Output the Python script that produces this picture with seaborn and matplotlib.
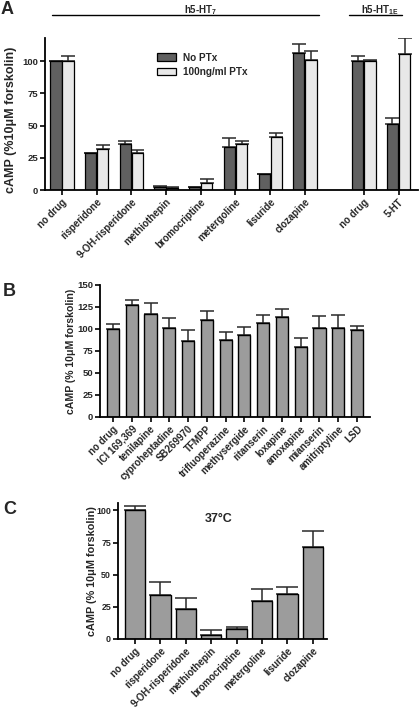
import numpy as np
import pandas as pd
import matplotlib
matplotlib.use("Agg")
import matplotlib.pyplot as plt
from matplotlib.lines import Line2D
from matplotlib.container import BarContainer
import seaborn as sns

# ---------------- data ----------------
a_drugs = ["no drug", "risperidone", "9-OH-risperidone", "methiothepin",
           "bromocriptine", "metergoline", "lisuride", "clozapine",
           "no drug", "5-HT"]
a_noptx = [100, 28.5, 35.8, 2.4, 2.0, 33.3, 12.1, 106, 100, 51]
a_noptx_err = [0, 0.6, 2.2, 1.0, 0.6, 7.3, 0.6, 7, 3.8, 5.2]
a_ptx = [100, 31.5, 28.4, 1.4, 5.4, 35.7, 41.3, 101, 100, 105.5]
a_ptx_err = [4, 3.5, 2.3, 1.2, 3.1, 2.0, 3.1, 7, 1.3, 12.3]
a_conditions = ["No PTx", "100ng/ml PTx"]

b_drugs = ["no drug", "ICI 169,369", "tenilapine", "cyproheptadine",
           "SB269970", "TFMPP", "trifluoperazine", "methysergide",
           "ritanserin", "loxapine", "amoxapine", "mianserin",
           "amitriptyline", "LSD"]
b_vals = [100, 127.4, 117.4, 100.8, 85.9, 110.6, 87.8, 93.5, 106.9,
          113.7, 79, 101.5, 101.1, 99.2]
b_err = [6, 5.8, 11.6, 11.2, 12.6, 9.9, 8.8, 8.8, 8.7, 8.8, 10.7,
         13.4, 14.5, 3.8]

c_drugs = ["no drug", "risperidone", "9-OH-risperidone", "methiothepin",
           "bromocriptine", "metergoline", "lisuride", "clozapine"]
c_vals = [100, 33.9, 23.6, 3.4, 8.0, 29.5, 35.0, 71.5]
c_err = [3, 10.7, 8.5, 3.6, 1.0, 9.4, 5.7, 12.5]

# layout: slot positions of panel A groups (gap between receptor blocks)
a_slots = [0, 1, 2, 3, 4, 5, 6, 7, 8.7, 9.7]

# ---------------- style ----------------
sns.set_theme(style="ticks")
plt.rcParams["font.family"] = ["Liberation Sans", "DejaVu Sans"]
plt.rcParams["font.weight"] = "bold"
plt.rcParams["axes.labelweight"] = "bold"
plt.rcParams["mathtext.fontset"] = "custom"
plt.rcParams["mathtext.rm"] = "Liberation Sans:bold"
plt.rcParams["mathtext.bf"] = "Liberation Sans:bold"
plt.rcParams["mathtext.it"] = "Liberation Sans:bold"

fig = plt.figure(figsize=(4.2, 7.12), dpi=100)
W, H = 420.0, 712.0


def add_ax(x0, x1, ytop, ybot):
    return fig.add_axes([x0 / W, 1 - ybot / H, (x1 - x0) / W, (ybot - ytop) / H])


def style_ax(ax, yticks, ysize=6.8):
    sns.despine(ax=ax)
    for s in ("left", "bottom"):
        ax.spines[s].set_linewidth(1.3)
        ax.spines[s].set_color("black")
    ax.tick_params(axis="both", length=3.5, width=1.2, color="black",
                   labelsize=6.8, pad=1.5)
    ax.set_yticks(yticks)
    ax.set_yticklabels([str(t) for t in yticks], fontweight="bold",
                       fontsize=ysize)
    ax.set_xlabel("")
    ax.set_facecolor("none")


def add_errs(ax, centers_ref, errs_by_hue, capsize):
    conts = [c for c in list(ax.containers)
             if isinstance(c, BarContainer) and len(c) > 0]
    for ci, cont in enumerate(conts):
        errs = errs_by_hue[ci]
        for bar in cont:
            xc = bar.get_x() + bar.get_width() / 2
            idx = int(np.argmin(np.abs(np.asarray(centers_ref) - xc)))
            h = bar.get_height()
            ax.errorbar([xc], [h], yerr=[[0], [errs[idx]]], fmt="none",
                        ecolor="#2a2a2a", elinewidth=1.1, capsize=capsize,
                        capthick=1.1, zorder=1)


def rot_labels(ax, labels, fs=7):
    ax.set_xticklabels(labels, rotation=45, ha="right", va="top",
                       rotation_mode="anchor", fontsize=fs, fontweight="bold")


# ---------------- Panel A ----------------
dfA = pd.DataFrame({
    "slot": a_slots * 2,
    "value": a_noptx + a_ptx,
    "cond": [a_conditions[0]] * len(a_slots) + [a_conditions[1]] * len(a_slots),
})
axA = add_ax(45, 418, 38, 190)
sns.barplot(data=dfA, x="slot", y="value", hue="cond", hue_order=a_conditions,
            native_scale=True, palette={a_conditions[0]: "#606060",
                                        a_conditions[1]: "#e8e8e8"},
            edgecolor="black", linewidth=0.9, width=0.7, gap=0.08,
            errorbar=None, ax=axA, zorder=2)
add_errs(axA, a_slots, [a_noptx_err, a_ptx_err], capsize=5)
axA.set_xlim(-0.49, 10.26)
axA.set_ylim(0, 118)
style_ax(axA, [0, 25, 50, 75, 100])
axA.set_xticks(a_slots)
rot_labels(axA, a_drugs)
axA.set_ylabel("cAMP (%10\u03bcM forskolin)", fontsize=9, fontweight="bold")
axA.yaxis.set_label_coords(-0.075, 0.465)
leg = axA.legend(loc="upper left", bbox_to_anchor=(0.29, 0.93), frameon=False,
                 fontsize=7.2, handlelength=1.9, handleheight=0.75,
                 handletextpad=0.7, labelspacing=0.45, borderaxespad=0)
for t in leg.get_texts():
    t.set_fontweight("bold")
for p in leg.get_patches():
    p.set_linewidth(0.9)

# group headers
fig.text(201 / W, 1 - 10 / H, r"h5-HT$_{7}$", ha="center", va="center",
         fontsize=7, fontweight="bold")
fig.text(380 / W, 1 - 10 / H, r"h5-HT$_{1E}$", ha="center", va="center",
         fontsize=7, fontweight="bold")
fig.add_artist(Line2D([52 / W, 319 / W], [1 - 15 / H] * 2, color="black", lw=1.0))
fig.add_artist(Line2D([349 / W, 402 / W], [1 - 15 / H] * 2, color="black", lw=1.0))
fig.text(1 / W, 1 - 1 / H, "A", ha="left", va="top", fontsize=13,
         fontweight="bold")

# ---------------- Panel B ----------------
dfB = pd.DataFrame({"drug": b_drugs, "value": b_vals})
axB = add_ax(100, 370, 285, 417)
sns.barplot(data=dfB, x="drug", y="value", order=b_drugs, color="#9c9c9c",
            saturation=1, edgecolor="black", linewidth=1.0, width=0.64,
            errorbar=None, ax=axB, zorder=2)
add_errs(axB, list(range(len(b_drugs))), [b_err], capsize=5)
axB.set_xlim(-0.69, len(b_drugs) - 1 + 0.69)
axB.set_ylim(0, 150)
style_ax(axB, [0, 25, 50, 75, 100, 125, 150])
rot_labels(axB, b_drugs)
axB.set_ylabel("cAMP (% 10\u03bcM forskolin)", fontsize=7.6, fontweight="bold")
axB.yaxis.set_label_coords(-0.089, 0.5)
fig.text(3 / W, 1 - 291 / H, "B", ha="left", va="center", fontsize=13,
         fontweight="bold")

# ---------------- Panel C ----------------
dfC = pd.DataFrame({"drug": c_drugs, "value": c_vals})
axC = add_ax(118, 327, 503, 639)
sns.barplot(data=dfC, x="drug", y="value", order=c_drugs, color="#9c9c9c",
            saturation=1, edgecolor="black", linewidth=1.0, width=0.8,
            errorbar=None, ax=axC, zorder=2)
add_errs(axC, list(range(len(c_drugs))), [c_err], capsize=8)
axC.set_xlim(-0.67, len(c_drugs) - 1 + 0.56)
axC.set_ylim(0, 105.7)
style_ax(axC, [0, 25, 50, 75, 100], ysize=6.4)
rot_labels(axC, c_drugs)
axC.set_ylabel("cAMP (% 10\u03bcM forskolin)", fontsize=7.8, fontweight="bold")
axC.yaxis.set_label_coords(-0.1, 0.5)
axC.text(0.48, 0.88, "37\u00b0C", transform=axC.transAxes, ha="center",
         va="center", fontsize=9, fontweight="bold")
fig.text(3 / W, 1 - 510 / H, "C", ha="left", va="center", fontsize=13,
         fontweight="bold")

fig.savefig("out.png", dpi=100)
